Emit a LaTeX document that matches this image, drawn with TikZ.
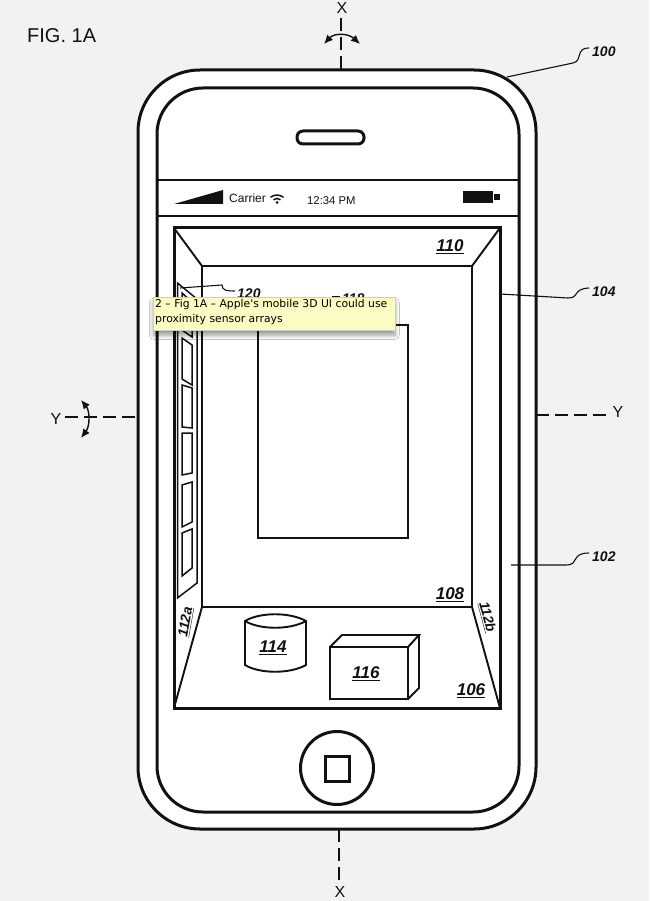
\documentclass[tikz,border=0pt]{standalone}
\usepackage{fontspec}
\setmainfont{Liberation Sans}
\newfontfamily\tipfont{DejaVu Sans}
\usetikzlibrary{arrows.meta,shadows.blur,shadows}
\definecolor{pagebg}{HTML}{F2F2F2}
\definecolor{tipbg}{HTML}{FBFBC4}
\definecolor{ink}{HTML}{111111}
\tikzset{
  thick line/.style={draw=ink,line width=3pt},
  mid line/.style={draw=ink,line width=1.9pt},
  panel line/.style={draw=ink,line width=1.5pt},
  thin line/.style={draw=ink,line width=1.1pt},
  axis line/.style={draw=ink,line width=1.7pt,dash pattern=on 13pt off 6pt},
  rock/.style={draw=ink,line width=1.4pt,{Latex[length=9pt,width=8pt]}-{Latex[length=9pt,width=8pt]}},
  reflabel/.style={font=\bfseries\itshape\fontsize{14}{16}\selectfont,text=ink,inner sep=0pt},
  boxlabel/.style={font=\bfseries\itshape\fontsize{17}{19}\selectfont,text=ink,inner sep=0pt},
  axislabel/.style={font=\fontsize{16}{18}\selectfont,text=ink,inner sep=0pt},
}
\newcommand{\uref}[1]{\underline{#1}}
\begin{document}
\begin{tikzpicture}[x=1pt,y=-1pt]
\fill[pagebg] (0,0) rectangle (649,901);
\useasboundingbox (0,0) rectangle (649,901);
\node[text=ink,inner sep=0pt,font=\fontsize{20}{22}\selectfont,anchor=west] (fig) at (27,36) {FIG. 1A};
% axes
\draw[axis line] (341,18) -- (341,70);
\draw[axis line] (339,829) -- (339,880);
\draw[axis line] (65,417) -- (138,417);
\draw[axis line] (536,415) -- (606,415);
\node[axislabel] (xtop) at (342,8) {X};
\node[axislabel] (xbot) at (340,892) {X};
\node[axislabel] (ylab) at (56,419) {Y};
\node[axislabel] (yrgt) at (618,412) {Y};
\draw[rock] (324,44) .. controls (334,33) and (348,33) .. (360,44);
\draw[rock] (81,400) .. controls (90,411) and (90,426) .. (81,438);
% phone body
\draw[thick line,fill=white,rounded corners=62pt] (138,70) rectangle (536,829);
\draw[thick line,rounded corners=46pt] (157,88) rectangle (519,812);
\draw[mid line] (157,180) -- (519,180);
\draw[mid line] (157,216) -- (519,216);
\draw[thick line,rounded corners=6pt] (297,131) rectangle (364,144);
% status bar
\fill[ink] (174,204) -- (223,190) -- (223,204) -- cycle;
\node[font=\fontsize{12}{14}\selectfont,text=ink,inner sep=0pt,anchor=west] (carrier) at (229,198) {Carrier};
\fill[ink] (277,202.5) circle (1.5pt);
\draw[ink,line width=1.5pt] (273.5,199.8) .. controls (275.5,198) and (278.5,198) .. (280.5,199.8);
\draw[ink,line width=1.5pt] (270.5,197.3) .. controls (274,194.3) and (280,194.3) .. (283.5,197.3);
\node[font=\fontsize{11.3}{14}\selectfont,text=ink,inner sep=0pt,anchor=west] (clock) at (307,201) {12:34 PM};
\fill[ink] (463,191) rectangle (493,203);
\fill[ink] (494,194) rectangle (500,200);
% screen
\draw[thick line] (174,228) rectangle (500,708);
\draw[mid line] (202,266) rectangle (472,607);
\draw[mid line] (174,228) -- (202,266);
\draw[mid line] (500,228) -- (472,266);
\draw[mid line] (174,708) -- (202,607);
\draw[mid line] (500,708) -- (472,607);
\draw[mid line] (258,325) rectangle (408,538);
% left panel
\draw[panel line] (177.5,283) -- (197,299) -- (197,583) -- (177.5,598) -- cycle;
\draw[panel line] (182,293) -- (192,302) -- (192,337) -- (182,330) -- cycle;
\draw[panel line] (182,338) -- (192,345) -- (192,385) -- (182,379) -- cycle;
\draw[panel line] (182,385) -- (192,388) -- (192,428) -- (182,427) -- cycle;
\draw[panel line] (182,433) -- (192,433) -- (192,473) -- (182,475) -- cycle;
\draw[panel line] (182,485) -- (192,482) -- (192,522) -- (182,527) -- cycle;
\draw[panel line] (182,533) -- (192,529) -- (192,568) -- (182,576) -- cycle;
% objects
\draw[mid line] (245,621) .. controls (260,612) and (290,612) .. (306,621) -- (306,665) .. controls (290,674) and (260,674) .. (245,665) -- cycle;
\draw[mid line] (245,621) .. controls (260,630) and (290,630) .. (306,621);
\draw[mid line] (330,699) rectangle (408,647);
\draw[mid line] (330,647) -- (342,635) -- (419,635) -- (408,647);
\draw[mid line] (419,635) -- (419,688) -- (408,699);
% labels
\node[boxlabel] (l110) at (450,247) {\uref{110}};
\node[boxlabel] (l108) at (450,595) {\uref{108}};
\node[boxlabel] (l106) at (471,691) {\uref{106}};
\node[boxlabel] (l114) at (273,648) {\uref{114}};
\node[boxlabel] (l116) at (366,674) {\uref{116}};
\node[reflabel,rotate=80] (l112a) at (186,622) {\uref{112a}};
\node[reflabel,rotate=-75] (l112b) at (487,617) {\uref{112b}};
% references
\node[reflabel,anchor=west] (l100) at (592,52) {100};
\node[reflabel,anchor=west] (l104) at (592,292) {104};
\node[reflabel,anchor=west] (l102) at (592,557) {102};
\node[reflabel,anchor=west] (l120) at (237,294) {120};
\node[reflabel,anchor=west] (l118) at (342,299) {118};
\coordinate (a100) at (507,77);
\coordinate (a104) at (500,294);
\coordinate (a102) at (511,565);
\coordinate (a120) at (180,288);
\draw[thin line] (a100) -- (573,63) .. controls (583,61) and (575,48) .. (589,48);
\draw[thin line] (a104) -- (568,298) .. controls (580,298) and (572,289) .. (589,288);
\draw[thin line] (a102) -- (566,565) .. controls (580,565) and (570,553) .. (589,553);
\draw[thin line] (a120) -- (222,285) .. controls (222,291) and (228,291) .. (235,291);
\draw[thin line] (332,297) -- (340,297);
% tooltip
\node[anchor=north west,draw=black!20,line width=.5pt,fill=tipbg,inner sep=0pt,minimum width=242pt,minimum height=33pt,
  blur shadow={shadow xshift=0pt,shadow yshift=-5pt,shadow blur steps=8,shadow blur radius=4pt,shadow opacity=40}] (tip) at (153,297) {};
\node[anchor=north west,inner sep=0pt,align=left,font=\tipfont\fontsize{10.8}{14.3}\selectfont,text=black] (tiptext) at (155,299.5) {2 – Fig 1A – Apple's mobile 3D UI could use\\proximity sensor arrays};
% home
\draw[thick line] (337,768) circle (36.5pt);
\draw[thick line] (325,756) rectangle (349,781);
\end{tikzpicture}
\end{document}
